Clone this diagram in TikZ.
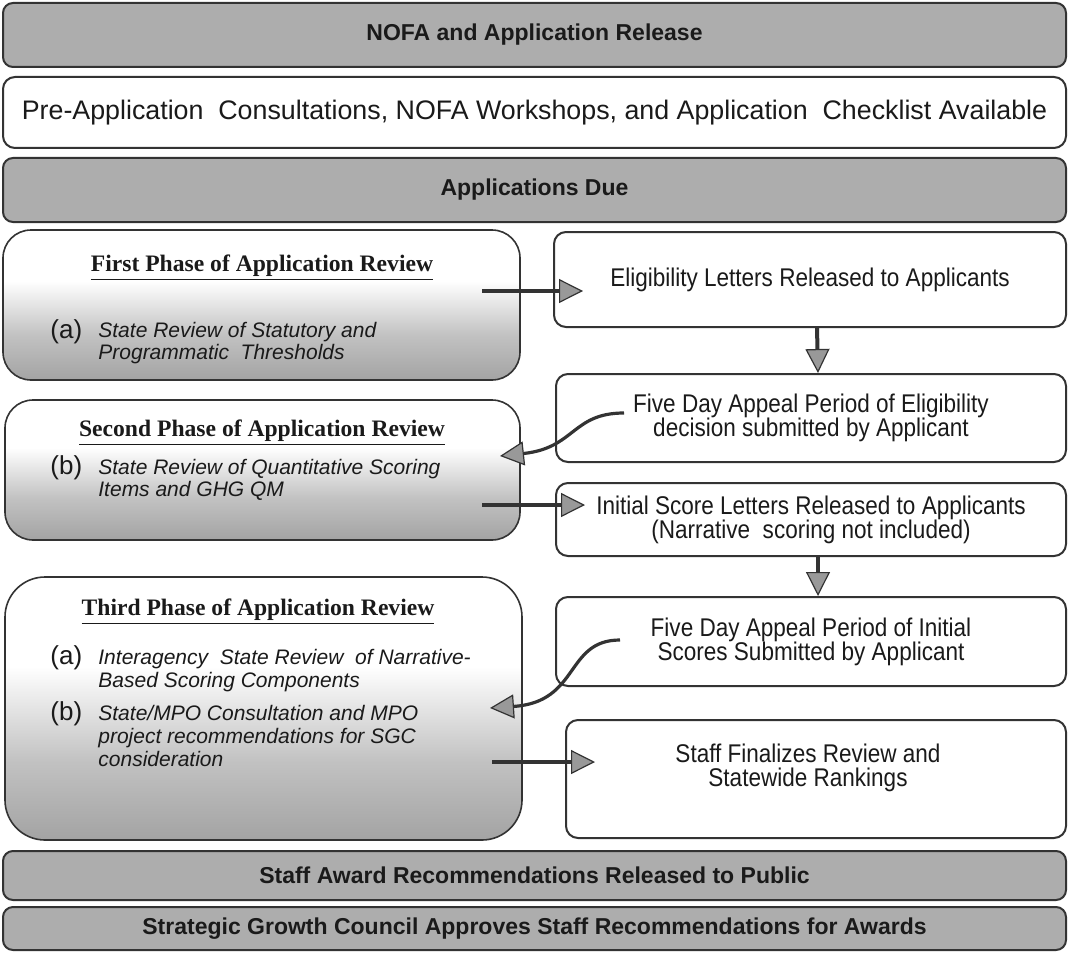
\documentclass[tikz,border=0pt]{standalone}
\usepackage{fontspec}
\setmainfont{Liberation Sans}
\newfontfamily\barfont{Liberation Sans}
\newfontfamily\ttlfont{Liberation Serif}
\newfontfamily\nfont[FakeStretch=0.88]{Liberation Sans}
\usetikzlibrary{arrows.meta}
\pgfdeclareverticalshading{phaseshade}{100bp}{color(0bp)=(black!36); color(25bp)=(black!36); color(40bp)=(black!24); color(58bp)=(white); color(75bp)=(white); color(100bp)=(white)}
\definecolor{edge}{HTML}{333333}
\definecolor{ink}{HTML}{1A1A1A}
\definecolor{barfill}{HTML}{ADADAD}
\begin{document}
\begin{tikzpicture}[x=0.5pt,y=-0.5pt,
  bar/.style={draw=edge, line width=1pt, fill=barfill, rounded corners=5pt, inner sep=0pt,
    font=\barfont\bfseries\fontsize{11.5}{14}\selectfont, text=ink, minimum width=531.5pt},
  plain/.style={draw=edge, line width=1pt, fill=white, rounded corners=6pt, inner sep=0pt,
    align=center, text=ink, font=\nfont\fontsize{12.8}{12}\selectfont},
  phase/.style={draw=edge, line width=0.8pt, shade, shading=phaseshade, inner sep=0pt},
  ttl/.style={font=\ttlfont\bfseries\fontsize{11.8}{14}\selectfont, text=ink, inner sep=0pt},
  lbl/.style={font=\fontsize{13}{14}\selectfont, text=ink, inner sep=0pt, anchor=base west},
  itm/.style={font=\itshape\fontsize{10.5}{11}\selectfont, text=ink, inner sep=0pt, anchor=base west},
  harrow/.style={draw=edge, line width=2pt, -{Triangle[length=12pt,width=12pt,fill=black!40,line width=0.6pt]}},
  carrow/.style={draw=edge, line width=1.6pt, -{Triangle[length=12pt,width=12pt,fill=black!40,line width=0.6pt]}}
]
\useasboundingbox (0,0) rectangle (1068,952);
\fill[white] (0,0) rectangle (1068,952);

% full-width bars
\node[bar, minimum height=32pt] (nofa) at (534.5,35) {NOFA and Application Release};
\node[plain, minimum width=531.5pt, minimum height=35.5pt, font=\fontsize{13.4}{14}\selectfont] (pre) at (534.5,112.5)
  {Pre-Application\ \ Consultations, NOFA Workshops, and Application\ \ Checklist Available};
\node[bar, minimum height=32pt] (due) at (534.5,190) {Applications Due};

% left phase boxes
\node[phase, rounded corners=14pt, minimum width=258.5pt, minimum height=75pt] (p1) at (261.5,305) {};
\node[phase, rounded corners=14pt, minimum width=257.5pt, minimum height=70pt] (p2) at (262.5,470) {};
\node[phase, rounded corners=20pt, minimum width=258.5pt, minimum height=131.5pt] (p3) at (263.5,708.5) {};

\node[ttl] (p1t) at (262,268) {\underline{First Phase of Application Review}};
\node[lbl] (p1a) at (50,338) {(a)};
\node[itm] (p1a1) at (98,337) {State Review of Statutory and};
\node[itm] (p1a2) at (98,359) {Programmatic\ \ Thresholds};

\node[ttl] (p2t) at (262,433) {\underline{Second Phase of Application Review}};
\node[lbl] (p2b) at (50,474) {(b)};
\node[itm] (p2b1) at (98,474) {State Review of Quantitative Scoring};
\node[itm] (p2b2) at (98,496) {Items and GHG QM};

\node[ttl] (p3t) at (258,612) {\underline{Third Phase of Application Review}};
\node[lbl] (p3a) at (50,664) {(a)};
\node[itm] (p3a1) at (98,664) {Interagency\ \ State Review\ \ of Narrative-};
\node[itm] (p3a2) at (98,687) {Based Scoring Components};
\node[lbl] (p3b) at (50,720) {(b)};
\node[itm] (p3b1) at (98,720) {State/MPO Consultation and MPO};
\node[itm] (p3b2) at (98,743) {project recommendations for SGC};
\node[itm] (p3b3) at (98,766) {consideration};

% right boxes
\node[plain, minimum width=256pt, minimum height=47.5pt] (elig) at (810,279.5) {Eligibility Letters Released\ to Applicants};
\node[plain, minimum width=255pt, minimum height=44pt] (fd1) at (811,418) {Five Day Appeal Period of Eligibility\\decision submitted by Applicant};
\node[plain, minimum width=255pt, minimum height=36.5pt] (init) at (811,519.5) {Initial\ Score Letters Released\ to Applicants\\(Narrative\ \ scoring not included)};
\node[plain, minimum width=255pt, minimum height=44.5pt] (fd2) at (811,641.5) {Five Day Appeal Period of Initial\\Scores Submitted by Applicant};
\node[plain, minimum width=250pt, minimum height=59pt] (staff) at (816,779) {};
\node[font=\nfont\fontsize{12.8}{12}\selectfont, text=ink, align=center, inner sep=0pt] (stafft) at (808,768) {Staff Finalizes Review\ and\\Statewide Rankings};

% bottom bars
\node[bar, minimum height=24.5pt] (award) at (534.5,875.5) {Staff Award Recommendations Released to Public};
\node[bar, minimum height=21.5pt] (sgc) at (534.5,928.5) {Strategic Growth Council Approves Staff Recommendations for Awards};

% connectors
\coordinate (h1) at (482,291);
\draw[harrow] (h1) -- ([xshift=15pt]h1 -| elig.west);
\coordinate (h2) at (482,505);
\draw[harrow] (h2) -- ([xshift=15pt]h2 -| init.west);
\coordinate (h3) at (492,762);
\draw[harrow] (h3) -- ([xshift=15pt]h3 -| staff.west);

\draw[harrow] ([xshift=3.5pt]elig.south) -- ([xshift=3.5pt]fd1.north);
\draw[harrow] ([xshift=3.5pt]init.south) -- ([xshift=3.5pt]fd2.north);

\coordinate (c1s) at (624,413);
\coordinate (c1e) at (500,456);
\draw[carrow] (c1s) .. controls (572,413) and (575,448) .. (c1e);
\coordinate (c2s) at (620,640);
\coordinate (c2e) at (490,708);
\draw[carrow] (c2s) .. controls (565,640) and (580,702) .. (c2e);
\end{tikzpicture}
\end{document}
